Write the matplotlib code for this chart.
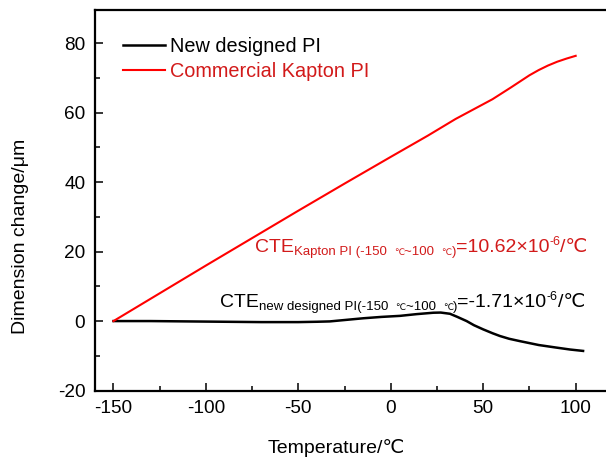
import matplotlib
matplotlib.use("Agg")
import matplotlib.pyplot as plt
from matplotlib.ticker import MultipleLocator

plt.rcParams['font.family'] = ['Liberation Sans', 'DejaVu Sans']
plt.rcParams['axes.unicode_minus'] = False

# ---- data ----
new_temp = [-150, -130, -110, -90, -70, -50, -40, -33, -25, -15, -5, 5, 14, 23, 27,
            32, 36, 41, 45, 50, 55, 59, 64, 70, 80, 89, 97, 104]
new_dim = [0.0, 0.0, -0.1, -0.2, -0.3, -0.3, -0.2, -0.1, 0.3, 0.8, 1.2, 1.5, 2.0, 2.4, 2.45,
           2.1, 1.2, 0.0, -1.2, -2.4, -3.5, -4.3, -5.1, -5.8, -6.9, -7.6, -8.2, -8.6]

kap_temp = [-150, -125, -100, -75, -50, -25, 0, 20, 35, 55, 65, 75, 80, 85, 90, 95, 100]
kap_dim = [0.0, 8.0, 16.0, 23.9, 31.8, 39.6, 47.3, 53.4, 58.2, 63.9, 67.3, 70.8, 72.3,
           73.6, 74.7, 75.6, 76.4]

series_labels = ["New designed PI", "Commercial Kapton PI"]
x_ticks = [-150, -100, -50, 0, 50, 100]
y_ticks = [-20, 0, 20, 40, 60, 80]

W, H = 606, 461
fig = plt.figure(figsize=(W / 100, H / 100), dpi=100)
ax = fig.add_axes([95 / W, (H - 390.5) / H, 1 - 95 / W, (390.5 - 10) / H])

red = '#ff0000'
red_txt = '#d21a1a'
l1, = ax.plot(new_temp, new_dim, color='black', lw=1.8, label=series_labels[0])
l2, = ax.plot(kap_temp, kap_dim, color=red, lw=1.5, label=series_labels[1])

ax.set_xlim(-160, 116.4)
ax.set_ylim(-20, 89.6)
ax.set_xticks(x_ticks)
ax.set_yticks(y_ticks)
ax.xaxis.set_minor_locator(MultipleLocator(25))
ax.yaxis.set_minor_locator(MultipleLocator(10))
ax.tick_params(which='both', direction='in', top=False, right=False, labelsize=13.7,
               width=1.1, pad=7)
ax.tick_params(which='major', length=6)
ax.tick_params(which='minor', length=3.5)
ax.spines['right'].set_visible(False)
for s in ['left', 'bottom', 'top']:
    ax.spines[s].set_linewidth(1.6)

ax.set_xlabel('Temperature/℃', fontsize=14)
ax.set_ylabel('Dimension change/μm', fontsize=14)
ax.xaxis.set_label_coords(0.472, -0.128)
ax.yaxis.set_label_coords(-0.129, 0.405)

leg = ax.legend(loc='upper left', bbox_to_anchor=(0.055, 0.93), frameon=False,
                fontsize=14.3, handlelength=2.1, handletextpad=0.26,
                labelspacing=0.32, borderpad=0, borderaxespad=0)
leg.get_texts()[1].set_color(red_txt)

renderer = fig.canvas.get_renderer()


def chain(x0, y0, pieces, color):
    x = x0
    for s, size, dy in pieces:
        t = fig.text(x / W, (H - (y0 - dy)) / H, s, fontsize=size, color=color,
                     ha='left', va='baseline')
        x += t.get_window_extent(renderer).width


main, sub, tiny, sup = 14, 9.5, 6.5, 9
chain(255, 251.7, [("CTE", main, 0), ("Kapton PI (-150  ", sub, -3), ("℃", tiny, -3),
                   ("~100  ", sub, -3), ("℃", tiny, -3), (")", sub, -3),
                   ("=10.62×10", main, 0), ("-6", sup, 7), ("/℃", main, 0)], red_txt)
chain(220, 306.7, [("CTE", main, 0), ("new designed PI(-150  ", sub, -3), ("℃", tiny, -3),
                   ("~100  ", sub, -3), ("℃", tiny, -3), (")", sub, -3),
                   ("=-1.71×10", main, 0), ("-6", sup, 7), ("/℃", main, 0)], 'black')

fig.savefig('out.png', dpi=100)
